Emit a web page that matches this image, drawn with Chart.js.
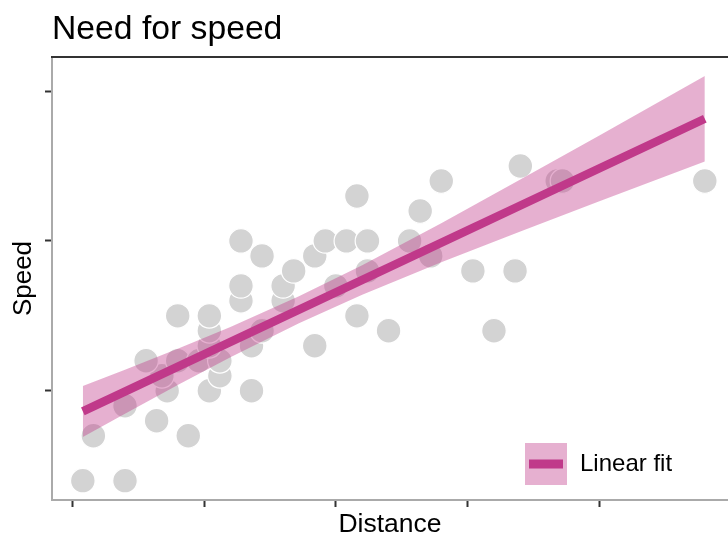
<!DOCTYPE html>
<html>
<head>
<meta charset="utf-8">
<script src="https://cdn.jsdelivr.net/npm/chart.js@4"></script>
<style>
    html, body { margin: 0; padding: 0; background: #fff; }
    #wrap { width: 728px; height: 544px; }
</style>
</head>
<body>
<div id="wrap"><canvas id="speedChart" width="728" height="544"></canvas></div>
<script>
// ===== Data (cars: stopping distance vs speed) =====
const distance = [2, 10, 4, 22, 16, 10, 18, 26, 34, 17, 28, 14, 20, 24, 28, 26, 34, 34, 46, 26,
    36, 60, 80, 20, 26, 54, 32, 40, 32, 40, 50, 42, 56, 76, 84, 36, 46, 68, 32, 48,
    52, 56, 64, 66, 54, 70, 92, 93, 120, 85];
const speed = [4, 4, 7, 7, 8, 9, 10, 10, 10, 11, 11, 12, 12, 12, 12, 13, 13, 13, 13, 14,
    14, 14, 14, 15, 15, 15, 16, 16, 17, 17, 17, 18, 18, 18, 18, 19, 19, 19, 20, 20,
    20, 20, 20, 22, 23, 24, 24, 24, 24, 25];

// linear fit end points and confidence band
const fitX = [2, 120];
const fitY = [8.62, 28.15];
const bandX = [2, 10, 20, 30, 43, 55, 70, 85, 100, 120];
const bandLow = [6.92, 8.47, 10.39, 12.24, 14.51, 16.40, 18.57, 20.63, 22.64, 25.30];
const bandHigh = [10.31, 11.41, 12.80, 14.26, 16.30, 18.38, 21.18, 24.09, 27.04, 31.01];

const xTicks = [0, 25, 50, 75, 100];
const yTicks = [10, 20, 30];

const fitColor = '#c0398a';
const bandColor = 'rgba(192, 57, 138, 0.4)';
const pointColor = '#d3d3d3';
const fontFamily = '"Liberation Sans", Arial, sans-serif';

const toXY = (xs, ys) => xs.map((x, i) => ({ x: x, y: ys[i] }));

// ===== Plot extras: top rule + legend =====
const extrasPlugin = {
    id: 'extras',
    afterDraw(chart) {
        const { ctx, chartArea } = chart;
        ctx.save();
        // dark top rule
        ctx.strokeStyle = '#333';
        ctx.lineWidth = 2;
        ctx.beginPath();
        ctx.moveTo(chartArea.left - 1, chartArea.top);
        ctx.lineTo(chartArea.right, chartArea.top);
        ctx.stroke();

        // legend key
        const bx = chartArea.right - 203;
        const by = chartArea.bottom - 57;
        ctx.fillStyle = bandColor;
        ctx.fillRect(bx, by, 42, 42);
        ctx.strokeStyle = fitColor;
        ctx.lineWidth = 9;
        ctx.beginPath();
        ctx.moveTo(bx + 4, by + 21);
        ctx.lineTo(bx + 38, by + 21);
        ctx.stroke();

        ctx.fillStyle = '#000';
        ctx.font = '24px ' + fontFamily;
        ctx.textBaseline = 'middle';
        ctx.fillText('Linear fit', bx + 55, by + 21);
        ctx.restore();
    }
};

const ctx = document.getElementById('speedChart').getContext('2d');
new Chart(ctx, {
    type: 'scatter',
    data: {
        datasets: [
            {
                label: 'Linear fit',
                data: toXY(fitX, fitY),
                showLine: true,
                borderColor: fitColor,
                borderWidth: 8.5,
                pointRadius: 0,
                order: 1
            },
            {
                label: 'upper',
                data: toXY(bandX, bandHigh),
                showLine: true,
                borderWidth: 0,
                pointRadius: 0,
                backgroundColor: bandColor,
                fill: '+1',
                order: 2
            },
            {
                label: 'lower',
                data: toXY(bandX, bandLow),
                showLine: true,
                borderWidth: 0,
                pointRadius: 0,
                fill: false,
                order: 2
            },
            {
                label: 'cars',
                data: toXY(distance, speed),
                pointRadius: 12.3,
                pointBackgroundColor: pointColor,
                pointBorderColor: '#fff',
                pointBorderWidth: 1.2,
                order: 3
            }
        ]
    },
    options: {
        responsive: false,
        animation: false,
        layout: { padding: 0, autoPadding: false },
        plugins: {
            legend: { display: false },
            tooltip: { enabled: false },
            title: {
                display: true,
                text: 'Need for speed',
                align: 'start',
                fullSize: false,
                color: '#000',
                font: { family: fontFamily, size: 33.7, weight: 'normal', lineHeight: 1.2 },
                padding: { top: 9, bottom: 7.6 }
            }
        },
        scales: {
            x: {
                type: 'linear',
                min: -3.85,
                max: 124.4,
                afterBuildTicks: scale => { scale.ticks = xTicks.map(v => ({ value: v })); },
                afterFit: scale => { scale.height = 44; },
                ticks: { display: false },
                grid: { drawOnChartArea: false, drawTicks: true, tickLength: 7, tickColor: '#333', tickWidth: 2 },
                border: { color: '#aaa', width: 2 },
                title: {
                    display: true,
                    text: 'Distance',
                    color: '#000',
                    font: { family: fontFamily, size: 26.5, lineHeight: 1.2 },
                    padding: { top: 0, bottom: 3 }
                }
            },
            y: {
                type: 'linear',
                min: 2.71,
                max: 32.27,
                afterBuildTicks: scale => { scale.ticks = yTicks.map(v => ({ value: v })); },
                afterFit: scale => { scale.width = 52; },
                ticks: { display: false },
                grid: { drawOnChartArea: false, drawTicks: true, tickLength: 7, tickColor: '#333', tickWidth: 2 },
                border: { color: '#aaa', width: 2 },
                title: {
                    display: true,
                    text: 'Speed',
                    color: '#000',
                    font: { family: fontFamily, size: 26, lineHeight: 1.2 },
                    padding: { top: 8, bottom: 0 }
                }
            }
        }
    },
    plugins: [extrasPlugin]
});
</script>
</body>
</html>
